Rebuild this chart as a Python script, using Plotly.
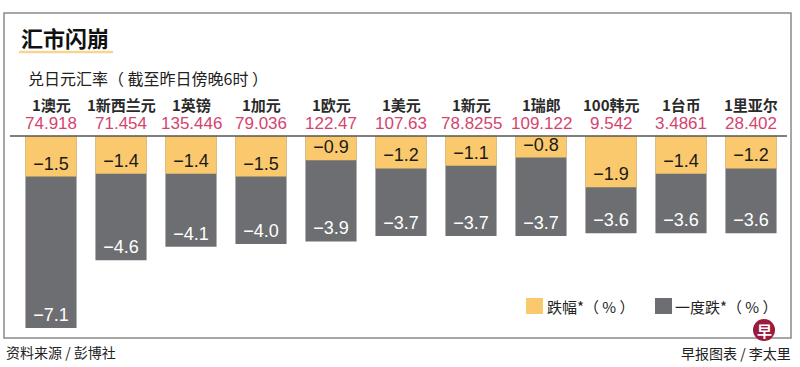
import plotly.graph_objects as go

# ---- data ----
currencies = ["1澳元", "1新西兰元", "1英镑", "1加元", "1欧元", "1美元", "1新元", "1瑞郎", "100韩元", "1台币", "1里亚尔"]
rates = ["74.918", "71.454", "135.446", "79.036", "122.47", "107.63", "78.8255", "109.122", "9.542", "3.4861", "28.402"]
drop = [-1.5, -1.4, -1.4, -1.5, -0.9, -1.2, -1.1, -0.8, -1.9, -1.4, -1.2]        # 跌幅*（%）
max_drop = [-7.1, -4.6, -4.1, -4.0, -3.9, -3.7, -3.7, -3.7, -3.6, -3.6, -3.6]    # 一度跌*（%）

title = "汇市闪崩"
subtitle = "兑日元汇率（ 截至昨日傍晚6时 ）"
legend_drop = "跌幅*（ % ）"
legend_max = "一度跌*（ % ）"
source = "资料来源 / 彭博社"
credit = "早报图表 / 李太里"

YELLOW = "#fbc96d"
GREY = "#6d6e71"
PINK = "#d4446f"
CJK = "Noto Sans CJK SC"
NUM = "Liberation Sans, Arial, sans-serif"

W, H = 800, 367
L, R, T, B = 16, 14, 136, 31
PW, PH = W - L - R, H - T - B


def px(x):
    return (x - L) / PW


def py(y):
    return (H - B - y) / PH


def fmt(v):
    return "\u2212" + f"{abs(v):.1f}"


x = list(range(len(currencies)))

fig = go.Figure()
fig.add_trace(go.Bar(
    x=x, y=max_drop, marker=dict(color=GREY, line=dict(width=0)),
    text=[fmt(v) for v in max_drop], textposition="inside", insidetextanchor="end",
    textfont=dict(family=NUM, size=18, color="white"), name=legend_max,
    hoverinfo="skip", showlegend=False,
))
fig.add_trace(go.Bar(
    x=x, y=drop, marker=dict(color=YELLOW, line=dict(width=0)),
    text=[fmt(v) for v in drop], textposition="inside", insidetextanchor="end",
    textfont=dict(family=NUM, size=18, color="#1a1a1a"), name=legend_drop,
    hoverinfo="skip", showlegend=False,
))

annotations = []
for i, (c, r) in enumerate(zip(currencies, rates)):
    annotations.append(dict(x=i, y=py(104), xref="x", yref="paper", text=c, showarrow=False,
                            font=dict(family=CJK, size=15, color="#2a2a2a", weight="bold"),
                            xanchor="center", yanchor="middle"))
    annotations.append(dict(x=i, y=py(124), xref="x", yref="paper", text=r, showarrow=False,
                            font=dict(family=NUM, size=17, color=PINK),
                            xanchor="center", yanchor="middle"))

annotations += [
    dict(x=px(19), y=py(37), xref="paper", yref="paper", text=title, showarrow=False,
         font=dict(family=CJK, size=22, color="#111", weight="bold"), xanchor="left", yanchor="middle"),
    dict(x=px(26), y=py(78), xref="paper", yref="paper", text=subtitle, showarrow=False,
         font=dict(family=CJK, size=16, color="#222"), xanchor="left", yanchor="middle"),
    dict(x=px(545), y=py(306), xref="paper", yref="paper", text=legend_drop, showarrow=False,
         font=dict(family=CJK, size=15, color="#222"), xanchor="left", yanchor="middle"),
    dict(x=px(673), y=py(306), xref="paper", yref="paper", text=legend_max, showarrow=False,
         font=dict(family=CJK, size=15, color="#222"), xanchor="left", yanchor="middle"),
    dict(x=px(4), y=py(352), xref="paper", yref="paper", text=source, showarrow=False,
         font=dict(family=CJK, size=14, color="#222"), xanchor="left", yanchor="middle"),
    dict(x=px(793), y=py(353), xref="paper", yref="paper", text=credit, showarrow=False,
         font=dict(family=CJK, size=14, color="#222"), xanchor="right", yanchor="middle"),
    dict(x=px(764), y=py(330), xref="paper", yref="paper", text="早", showarrow=False,
         font=dict(family=CJK, size=15, color="white", weight="bold"), xanchor="center", yanchor="middle"),
]

shapes = [
    # border
    dict(type="rect", xref="paper", yref="paper", x0=px(4), x1=px(791), y0=py(13), y1=py(338),
         line=dict(color="#8a8a8a", width=1.5), fillcolor="rgba(0,0,0,0)", layer="below"),
    # title underline
    dict(type="line", xref="paper", yref="paper", x0=px(19), x1=px(113), y0=py(52), y1=py(52),
         line=dict(color="#f6d592", width=2.5)),
    # baseline
    dict(type="line", xref="paper", yref="paper", x0=px(10), x1=px(787), y0=py(136), y1=py(136),
         line=dict(color="#555", width=1.5), layer="above"),
    # legend swatches
    dict(type="rect", xref="paper", yref="paper", x0=px(526), x1=px(543), y0=py(298), y1=py(314),
         fillcolor=YELLOW, line=dict(width=0)),
    dict(type="rect", xref="paper", yref="paper", x0=px(655), x1=px(672), y0=py(298), y1=py(314),
         fillcolor=GREY, line=dict(width=0)),
    # logo
    dict(type="circle", xref="paper", yref="paper", x0=px(753), x1=px(775), y0=py(319), y1=py(341),
         fillcolor="#9e1a3c", line=dict(width=0)),
]

fig.update_layout(
    width=W, height=H, margin=dict(l=L, r=R, t=T, b=B),
    paper_bgcolor="white", plot_bgcolor="white",
    barmode="overlay", bargap=0.27,
    xaxis=dict(range=[-0.5, len(currencies) - 0.5], visible=False, fixedrange=True),
    yaxis=dict(range=[-7.4, 0], visible=False, fixedrange=True),
    uniformtext=dict(minsize=18, mode="show"),
    annotations=annotations, shapes=shapes, showlegend=False,
)

fig.write_html("out.html", config={"displayModeBar": False},
               post_script="document.body.style.margin='0';document.body.style.overflow='hidden';")
